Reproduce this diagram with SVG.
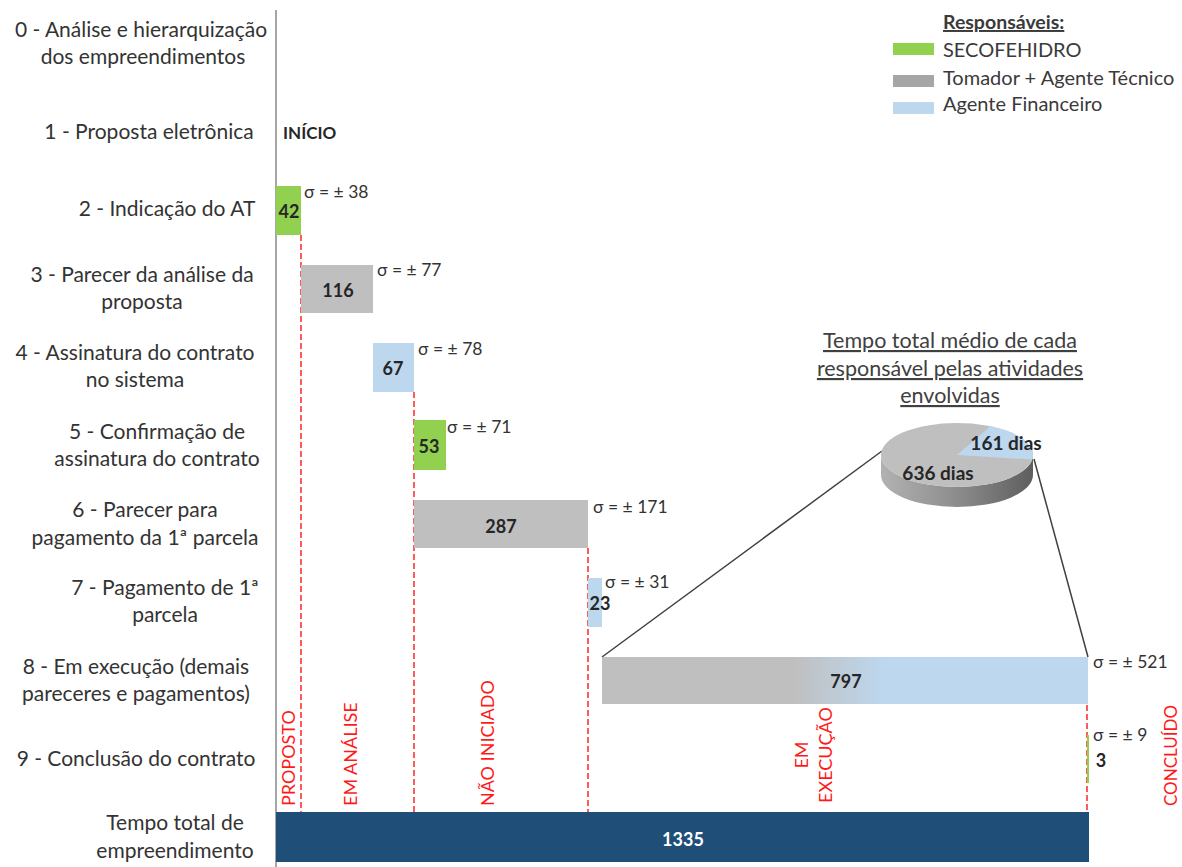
<svg xmlns="http://www.w3.org/2000/svg" width="1182" height="867" viewBox="0 0 1182 867">
  <style>
    .lbl { font-family: Lato, "Liberation Sans", sans-serif; font-size: 21px; fill: #333333; text-anchor: middle; }
    .sig { font-family: Lato, "Liberation Sans", sans-serif; font-size: 17.5px; fill: #333333; }
    .val { font-family: Lato, "Liberation Sans", sans-serif; font-size: 18px; font-weight: bold; fill: #262626; text-anchor: middle; }
    .phase { font-family: Lato, "Liberation Sans", sans-serif; font-size: 18px; fill: #FF1A1A; }
    .leg { font-family: Lato, "Liberation Sans", sans-serif; font-size: 20px; fill: #3a3a3a; }
    .pt { font-family: Lato, "Liberation Sans", sans-serif; font-size: 21.5px; fill: #404040; text-anchor: middle; text-decoration: underline; }
    .dash { stroke: #FF3333; stroke-width: 1.6; stroke-dasharray: 6 3; fill: none; }
    .green { fill: #92D050; }
    .gray { fill: #BFBFBF; }
    .blue { fill: #BDD7EE; }
    .link { stroke: #404040; stroke-width: 1.5; fill: none; }
  </style>
  <defs>
    <linearGradient id="execFill" x1="0" y1="0" x2="1" y2="0">
      <stop offset="0" stop-color="#BFBFBF"/>
      <stop offset="0.39" stop-color="#BFBFBF"/>
      <stop offset="0.58" stop-color="#BDD7EE"/>
      <stop offset="1" stop-color="#BDD7EE"/>
    </linearGradient>
    <linearGradient id="pieSide" x1="0" y1="0" x2="1" y2="0">
      <stop offset="0" stop-color="#B2B2B2"/>
      <stop offset="0.5" stop-color="#8C8C8C"/>
      <stop offset="1" stop-color="#5E5E5E"/>
    </linearGradient>
  </defs>

  <rect width="1182" height="867" fill="#FFFFFF"/>

  <!-- category axis -->
  <line x1="276" y1="10" x2="276" y2="867" stroke="#A6A6A6" stroke-width="2"/>

  <!-- row labels -->
  <g id="row-labels">
    <text class="lbl" x="141" y="37">0 - Análise e hierarquização</text>
    <text class="lbl" x="143" y="64">dos empreendimentos</text>
    <text class="lbl" x="149" y="139">1 - Proposta eletrônica</text>
    <text class="lbl" x="167" y="216">2 - Indicação do AT</text>
    <text class="lbl" x="142" y="282">3 - Parecer da análise da</text>
    <text class="lbl" x="142" y="309">proposta</text>
    <text class="lbl" x="135" y="360">4 - Assinatura do contrato</text>
    <text class="lbl" x="135" y="387">no sistema</text>
    <text class="lbl" x="157" y="439">5 - Confirmação de</text>
    <text class="lbl" x="157" y="466">assinatura do contrato</text>
    <text class="lbl" x="145" y="517">6 - Parecer para</text>
    <text class="lbl" x="145" y="545">pagamento da 1ª parcela</text>
    <text class="lbl" x="165" y="595">7 - Pagamento de 1ª</text>
    <text class="lbl" x="165" y="622">parcela</text>
    <text class="lbl" x="136" y="674">8 - Em execução (demais</text>
    <text class="lbl" x="136" y="701">pareceres e pagamentos)</text>
    <text class="lbl" x="136" y="766">9 - Conclusão do contrato</text>
    <text class="lbl" x="175" y="830">Tempo total de</text>
    <text class="lbl" x="175" y="858">empreendimento</text>
  </g>

  <!-- phase boundaries and pie leader lines -->
  <g id="connectors">
    <line class="dash" x1="301" y1="235" x2="301" y2="812"/>
    <line class="dash" x1="414" y1="392" x2="414" y2="812"/>
    <line class="dash" x1="588" y1="548" x2="588" y2="812"/>
    <line class="dash" x1="1087" y1="705" x2="1087" y2="812"/>
    <line class="link" x1="882" y1="451" x2="602" y2="657"/>
    <line class="link" x1="1034" y1="459" x2="1088" y2="657"/>
  </g>

  <g id="phases">
    <text class="phase" transform="translate(295,806) rotate(-90)">PROPOSTO</text>
    <text class="phase" transform="translate(357,806) rotate(-90)">EM ANÁLISE</text>
    <text class="phase" transform="translate(494,806) rotate(-90)">NÃO INICIADO</text>
    <text class="phase" text-anchor="middle" transform="translate(808,755) rotate(-90)">EM</text>
    <text class="phase" text-anchor="middle" transform="translate(832,755) rotate(-90)">EXECUÇÃO</text>
    <text class="phase" style="font-size:17px" transform="translate(1177,806) rotate(-90)">CONCLUÍDO</text>
  </g>

  <text id="inicio" x="283" y="139" font-family="Lato, 'Liberation Sans', sans-serif" font-size="17" font-weight="bold" fill="#262626">INÍCIO</text>

  <!-- activity bars -->
  <g id="bar-2">
    <rect class="green" x="276" y="186" width="25" height="49"/>
    <text class="val" x="289" y="218">42</text>
    <text class="sig" x="304" y="198">σ = ± 38</text>
  </g>
  <g id="bar-3">
    <rect class="gray" x="301" y="265" width="72" height="48"/>
    <text class="val" x="338" y="297">116</text>
    <text class="sig" x="377" y="276">σ = ± 77</text>
  </g>
  <g id="bar-4">
    <rect class="blue" x="373" y="343" width="41" height="49"/>
    <text class="val" x="393" y="375">67</text>
    <text class="sig" x="418" y="355">σ = ± 78</text>
  </g>
  <g id="bar-5">
    <rect class="green" x="414" y="420" width="32" height="50"/>
    <text class="val" x="429" y="453">53</text>
    <text class="sig" x="447" y="433">σ = ± 71</text>
  </g>
  <g id="bar-6">
    <rect class="gray" x="414" y="500" width="174" height="48"/>
    <text class="val" x="501" y="533">287</text>
    <text class="sig" x="593" y="513">σ = ± 171</text>
  </g>
  <g id="bar-7">
    <rect class="blue" x="588" y="578" width="14" height="49"/>
    <text class="val" x="600" y="610">23</text>
    <text class="sig" x="605" y="588">σ = ± 31</text>
  </g>
  <g id="bar-8">
    <rect fill="url(#execFill)" x="602" y="657" width="486" height="47"/>
    <text class="val" x="846" y="688">797</text>
    <text class="sig" x="1093" y="668">σ = ± 521</text>
  </g>
  <g id="bar-9">
    <rect class="green" x="1087" y="735" width="2" height="48"/>
    <text class="val" x="1101" y="767">3</text>
    <text class="sig" x="1093" y="741">σ = ± 9</text>
  </g>
  <g id="bar-total">
    <rect fill="#1F4E79" x="276" y="812" width="813" height="50"/>
    <text class="val" x="683" y="846" style="fill:#FFFFFF">1335</text>
  </g>

  <!-- legend -->
  <g id="legend">
    <text x="943" y="29" font-family="Lato, 'Liberation Sans', sans-serif" font-size="19.5" font-weight="bold" fill="#3a3a3a" text-decoration="underline">Responsáveis:</text>
    <rect class="green" x="893" y="43" width="41" height="12"/>
    <text class="leg" x="943" y="57">SECOFEHIDRO</text>
    <rect x="893" y="75" width="41" height="12" fill="#A6A6A6"/>
    <text class="leg" x="943" y="85">Tomador + Agente Técnico</text>
    <rect class="blue" x="893" y="102" width="41" height="12"/>
    <text class="leg" x="943" y="111">Agente Financeiro</text>
  </g>

  <!-- pie of total time per responsible party -->
  <g id="pie">
    <text class="pt" x="950" y="348">Tempo total médio de cada</text>
    <text class="pt" x="950" y="376">responsável pelas atividades</text>
    <text class="pt" x="950" y="403">envolvidas</text>
    <path d="M881,455 L881,475 A76,32 0 0,0 1033,475 L1033,455 A76,32 0 0,1 881,455 Z" fill="url(#pieSide)"/>
    <ellipse cx="957" cy="455" rx="76" ry="32" fill="#BFBFBF"/>
    <path d="M957,455 L990.3,426.2 A76,32 0 0,1 1032.3,459.5 Z" fill="#BDD7EE"/>
    <text class="val" x="1006" y="450" style="font-size:19px">161 dias</text>
    <text class="val" x="938" y="480" style="font-size:19px">636 dias</text>
  </g>
</svg>
